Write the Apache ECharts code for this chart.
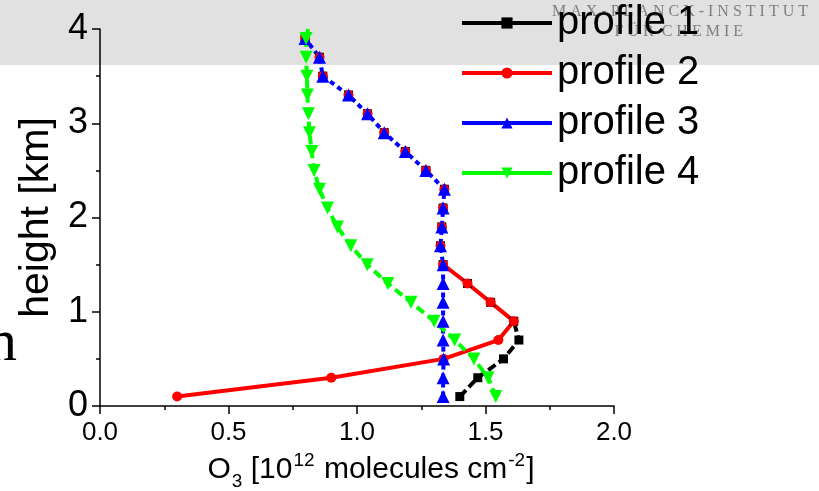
<!DOCTYPE html>
<html>
<head>
<meta charset="utf-8">
<script src="https://cdn.jsdelivr.net/npm/echarts@6/dist/echarts.min.js"></script>
<style>
  html, body { margin: 0; padding: 0; background: #fff; }
  #chart { width: 819px; height: 491px; }
</style>
</head>
<body>
<div id="chart"></div>
<script>
// 高度（km），四条廓线共用
const heights = [0.1, 0.3, 0.5, 0.7, 0.9, 1.1, 1.3, 1.5, 1.7, 1.9, 2.1, 2.3, 2.5, 2.7, 2.9, 3.1, 3.3, 3.5, 3.7, 3.9];

// O3 浓度 [10^12 molecules cm^-2]，按高度顺序
const profile1 = [1.40, 1.47, 1.57, 1.63, 1.61, 1.52, 1.43, 1.335, 1.325, 1.33, 1.335, 1.34, 1.268, 1.188, 1.106, 1.041, 0.967, 0.867, 0.854, 0.798];
const profile2 = [0.30, 0.90, 1.337, 1.55, 1.61, 1.52, 1.43, 1.335, 1.325, 1.33, 1.335, 1.34, 1.268, 1.188, 1.106, 1.041, 0.967, 0.867, 0.854, 0.798];
const profile3 = [1.335, 1.335, 1.337, 1.335, 1.335, 1.335, 1.335, 1.335, 1.325, 1.33, 1.335, 1.34, 1.268, 1.188, 1.106, 1.041, 0.967, 0.867, 0.854, 0.798];
const profile4 = [1.54, 1.51, 1.455, 1.38, 1.30, 1.21, 1.12, 1.04, 0.976, 0.924, 0.885, 0.854, 0.833, 0.824, 0.815, 0.811, 0.807, 0.805, 0.802, 0.802];
// 绿线顶端多出一小段，延伸到 4 km（无标记）
const profile4Top = [0.81, 4.0];

// 廓线 1、2 与廓线 3 重合之后只剩标记（线被蓝线盖住）
const profile1LineEnd = 0.9;
const profile2LineEnd = 1.5;

const xTicks = [0, 0.5, 1.0, 1.5, 2.0];
const yTicks = [0, 1, 2, 3, 4];

const names = ["profile 1", "profile 2", "profile 3", "profile 4"];

function pairs(xs) {
  return xs.map((x, i) => [x, heights[i]]);
}

function lineSeries(name, color, data, symbol, size, dash, extra) {
  return Object.assign({
    name,
    type: "line",
    data,
    symbol,
    symbolSize: size,
    showAllSymbol: true,
    clip: false,
    lineStyle: { color, width: 4, type: dash },
    itemStyle: { color },
    emphasis: { disabled: true },
  }, extra || {});
}

// 把一条廓线拆成“带线的下段”和“只有标记的上段”
function splitSeries(name, color, xs, lineEnd, symbol, size, dash) {
  const all = pairs(xs);
  const low = all.filter((p) => p[1] <= lineEnd + 1e-6);
  const high = all.filter((p) => p[1] > lineEnd + 1e-6);
  return [
    lineSeries(name, color, low, symbol, size, dash),
    lineSeries(name, color, high, symbol, size, dash, { lineStyle: { color, width: 0, opacity: 0 } }),
  ];
}

const p4data = pairs(profile4);
p4data.push({ value: profile4Top, symbol: "none" });

const chart = echarts.init(document.getElementById("chart"), null, { renderer: "canvas" });

chart.setOption({
  animation: false,
  backgroundColor: "#ffffff",
  textStyle: { fontFamily: "Liberation Sans, Arial, sans-serif" },
  graphic: [
    { type: "rect", z: -10, shape: { x: 0, y: 0, width: 819, height: 65 }, style: { fill: "#e1e1e1" } },
    { type: "text", z: -9, style: { text: "M A X - P L A N C K - I N S T I T U T", x: 808, y: 12, align: "right", verticalAlign: "middle", font: "16px 'Liberation Serif', serif", fill: "#808080" } },
    { type: "text", z: -9, style: { text: "F Ü R  C H E M I E", x: 743, y: 32, align: "right", verticalAlign: "middle", font: "16px 'Liberation Serif', serif", fill: "#808080" } },
    { type: "text", style: { text: "n", x: -13, y: 374, verticalAlign: "bottom", font: "60px 'Liberation Serif', serif", fill: "#000" } },
  ],
  legend: {
    data: names,
    orient: "vertical",
    left: 455,
    top: -3,
    itemWidth: 90,
    itemHeight: 14,
    itemGap: 8,
    lineStyle: { type: "solid", width: 4 },
    textStyle: { fontSize: 40, color: "#000", padding: [0, 0, 0, 0], lineHeight: 42 },
  },
  grid: { left: 100, right: 205, top: 29, bottom: 85, outerBoundsMode: "none" },
  xAxis: {
    type: "value",
    min: xTicks[0],
    max: xTicks[xTicks.length - 1],
    interval: 0.5,
    name: "{n|O}{sub|3}{n| [10}{sup|12}{n| molecules cm}{sup|-2}{n|]}",
    nameLocation: "middle",
    nameGap: 38,
    nameTextStyle: {
      padding: [0, 0, 0, 28],
      rich: {
        n: { fontSize: 30, color: "#000", verticalAlign: "bottom", lineHeight: 34 },
        sub: { fontSize: 19, color: "#000", verticalAlign: "bottom", lineHeight: 22, padding: [0, 0, -6, 1] },
        sup: { fontSize: 19, color: "#000", verticalAlign: "top", lineHeight: 22, padding: [0, 1, 10, 1] },
      },
    },
    axisLine: { lineStyle: { color: "#000", width: 1.5 } },
    axisTick: { length: 8, lineStyle: { color: "#000", width: 1.5 } },
    minorTick: { show: true, splitNumber: 2, length: 4, lineStyle: { color: "#000", width: 1.5 } },
    axisLabel: { fontSize: 26, color: "#000", margin: 14, formatter: (v) => v.toFixed(1) },
    splitLine: { show: false },
  },
  yAxis: {
    type: "value",
    min: yTicks[0],
    max: yTicks[yTicks.length - 1],
    interval: 1,
    name: "height [km]",
    nameLocation: "middle",
    nameGap: 33,
    nameTextStyle: { fontSize: 41, color: "#000" },
    axisLine: { lineStyle: { color: "#000", width: 1.5 } },
    axisTick: { length: 8, lineStyle: { color: "#000", width: 1.5 } },
    minorTick: { show: true, splitNumber: 2, length: 4, lineStyle: { color: "#000", width: 1.5 } },
    axisLabel: { fontSize: 36, color: "#000", margin: 12 },
    splitLine: { show: false },
  },
  series: [
    ...splitSeries(names[0], "#000000", profile1, profile1LineEnd, "rect", 9, [9, 4]),
    ...splitSeries(names[1], "#ff0000", profile2, profile2LineEnd, "circle", 10, "solid"),
    lineSeries(names[2], "#0000ff", pairs(profile3), "triangle", 13, [5, 4]),
    lineSeries(names[3], "#00ff00", p4data, "triangle", 13, [9, 5], { symbolRotate: 180 }),
  ],
});
</script>
</body>
</html>
